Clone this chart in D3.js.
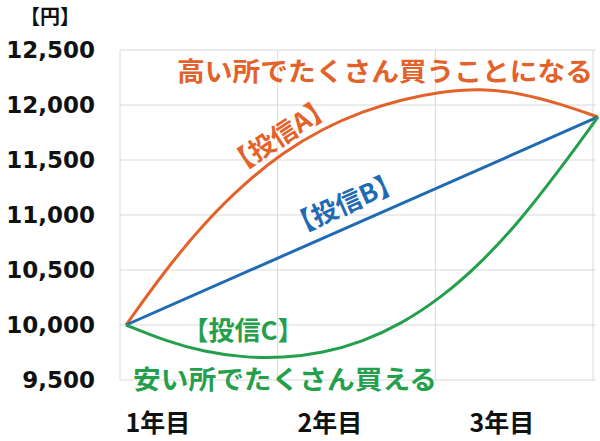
<!DOCTYPE html>
<html>
<head>
<meta charset="utf-8">
<script src="https://cdn.jsdelivr.net/npm/d3@7"></script>
<style>
  body { margin: 0; background: #fff; }
  text { font-family: "Noto Sans CJK JP", "DejaVu Sans", sans-serif; font-weight: bold; }
  .ytick text { font-family: "DejaVu Sans", sans-serif; }
</style>
</head>
<body>
<script>
// years elapsed since 1年目 (0 = 1年目, 3 = end of 3年目)
const years = [0, 0.25, 0.5, 0.75, 1, 1.25, 1.5, 1.75, 2, 2.25, 2.5, 2.75, 3];
// 投信A: rises fast, peaks, then drops back
const fundA = [10000, 10500, 10930, 11285, 11570, 11785, 11940, 12050, 12120, 12150, 12110, 12015, 11891];
// 投信B: straight rise
const fundBYears = [0, 3];
const fundB = [10000, 11891];
// 投信C: dips first, then rises
const fundC = [10000, 9855, 9755, 9705, 9700, 9745, 9845, 10010, 10245, 10555, 10940, 11400, 11891];

const yTicks = [9500, 10000, 10500, 11000, 11500, 12000, 12500];
const gridYears = [0, 1, 2, 3];
const xLabels = ["1年目", "2年目", "3年目"];

const W = 600, H = 441;
const colA = "#e3622a", colB = "#1f6bb3", colC = "#24a04c";

const svg = d3.select("body").append("svg")
  .attr("width", W).attr("height", H);

const y = d3.scaleLinear().domain([9500, 12500]).range([380, 50]);
const xGrid = d3.scaleLinear().domain([0, 3]).range([120, 593]);
const xLine = d3.scaleLinear().domain([0, 3]).range([126, 598]);
const xLab = d3.scalePoint().domain(xLabels).range([158, 502]);

// grid
svg.append("g").selectAll("line").data(yTicks).join("line")
  .attr("x1", 120).attr("x2", 596)
  .attr("y1", d => y(d)).attr("y2", d => y(d))
  .attr("stroke", "#d9d9d9").attr("stroke-width", 1);
svg.append("g").selectAll("line").data(gridYears).join("line")
  .attr("x1", d => xGrid(d)).attr("x2", d => xGrid(d))
  .attr("y1", y(12500)).attr("y2", y(9500))
  .attr("stroke", "#d9d9d9").attr("stroke-width", 1);

// y axis labels
const yAxis = d3.axisLeft(y).tickValues(yTicks).tickFormat(d3.format(",")).tickSize(0).tickPadding(25);
const ya = svg.append("g").attr("class", "ytick").attr("transform", "translate(120,0)").call(yAxis);
ya.select(".domain").remove();
ya.selectAll("text").attr("font-size", 23).attr("fill", "#111");

svg.append("text").attr("x", 50).attr("y", 24).attr("text-anchor", "middle")
  .attr("font-size", 20).attr("fill", "#111").text("【円】");

// x labels
svg.append("g").selectAll("text").data(xLabels).join("text")
  .attr("x", d => xLab(d)).attr("y", 432).attr("text-anchor", "middle")
  .attr("font-size", 25).attr("fill", "#111").text(d => d);

// lines
const line = d3.line().x(d => xLine(d[0])).y(d => y(d[1])).curve(d3.curveBasis);
const series = [
  { pts: d3.zip(years, fundA), col: colA },
  { pts: d3.zip(fundBYears, fundB), col: colB },
  { pts: d3.zip(years, fundC), col: colC }
];
svg.append("g").selectAll("path").data(series).join("path")
  .attr("d", d => line(d.pts))
  .attr("fill", "none").attr("stroke", d => d.col).attr("stroke-width", 3)
  .attr("stroke-linejoin", "round");

// annotations
svg.append("text").attr("x", 177).attr("y", 81).attr("font-size", 26)
  .attr("textLength", 416).attr("lengthAdjust", "spacingAndGlyphs")
  .attr("fill", colA).text("高い所でたくさん買うことになる");
svg.append("text").attr("transform", "translate(280,136) rotate(-33)")
  .attr("text-anchor", "middle").attr("dy", "0.35em").attr("font-size", 26)
  .attr("fill", colA).text("【投信A】");
svg.append("text").attr("transform", "translate(345,204) rotate(-24)")
  .attr("text-anchor", "middle").attr("dy", "0.35em").attr("font-size", 26)
  .attr("fill", colB).text("【投信B】");
svg.append("text").attr("x", 243).attr("y", 331)
  .attr("text-anchor", "middle").attr("dy", "0.35em").attr("font-size", 26)
  .attr("fill", colC).text("【投信C】");
svg.append("text").attr("x", 133).attr("y", 389).attr("font-size", 26)
  .attr("textLength", 304).attr("lengthAdjust", "spacingAndGlyphs")
  .attr("fill", colC).text("安い所でたくさん買える");
</script>
</body>
</html>
